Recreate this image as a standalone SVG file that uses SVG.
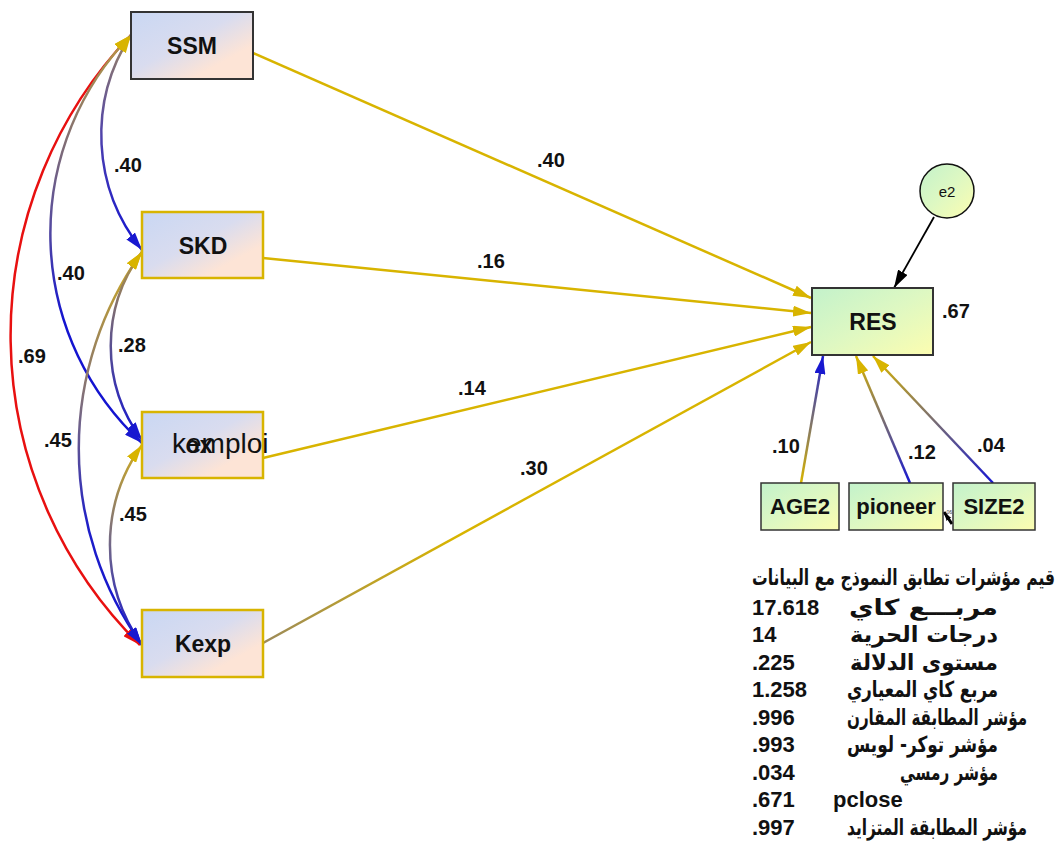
<svg xmlns="http://www.w3.org/2000/svg" width="1062" height="847" viewBox="0 0 1062 847">
<style>
.lbl{font-family:"Liberation Sans",Arial,sans-serif;font-weight:bold;font-size:23px;fill:#111;text-anchor:middle}
.sm{font-family:"Liberation Sans",Arial,sans-serif;font-weight:bold;font-size:22px;fill:#111;text-anchor:middle}
.num{font-family:"Liberation Sans",Arial,sans-serif;font-weight:bold;font-size:20px;fill:#111}
.st{font-family:"Liberation Sans",Arial,sans-serif;font-weight:bold;font-size:22px;fill:#111}
.ar{font-family:"DejaVu Sans","Noto Sans",sans-serif;font-weight:bold;font-size:22px;fill:#111}
.gold{fill:none;stroke:#d8b400;stroke-width:2.5}
.cov{fill:none;stroke-width:2.5}
</style>
<defs>
<linearGradient id="bp" x1="0" y1="0" x2="1" y2="1">
<stop offset="0" stop-color="#c9d7f3"/><stop offset="0.45" stop-color="#d9dcef"/><stop offset="0.75" stop-color="#fde4d6"/><stop offset="1" stop-color="#fde4d6"/>
</linearGradient>
<linearGradient id="gy" x1="0" y1="0" x2="1" y2="1">
<stop offset="0" stop-color="#c3f2cb"/><stop offset="0.5" stop-color="#def8c2"/><stop offset="1" stop-color="#fcfdb0"/>
</linearGradient>
<marker id="mg" viewBox="0 0 18 11" refX="18" refY="5.5" markerWidth="18" markerHeight="11" markerUnits="userSpaceOnUse" orient="auto-start-reverse"><path d="M0,0 L18,5.5 L0,11 z" fill="#d8b400"/></marker>
<marker id="mb" viewBox="0 0 18 11" refX="18" refY="5.5" markerWidth="18" markerHeight="11" markerUnits="userSpaceOnUse" orient="auto-start-reverse"><path d="M0,0 L18,5.5 L0,11 z" fill="#1818d0"/></marker>
<marker id="mr" viewBox="0 0 18 11" refX="18" refY="5.5" markerWidth="18" markerHeight="11" markerUnits="userSpaceOnUse" orient="auto-start-reverse"><path d="M0,0 L18,5.5 L0,11 z" fill="#e81010"/></marker>
<marker id="mk" viewBox="0 0 18 11" refX="18" refY="5.5" markerWidth="18" markerHeight="11" markerUnits="userSpaceOnUse" orient="auto-start-reverse"><path d="M0,0 L18,5.5 L0,11 z" fill="#000"/></marker>
<marker id="mks" viewBox="0 0 16 10" refX="16" refY="5" markerWidth="9" markerHeight="7" markerUnits="userSpaceOnUse" orient="auto"><path d="M0,0 L16,5 L0,10 z" fill="#000"/></marker>
<linearGradient id="c1" gradientUnits="userSpaceOnUse" x1="0" y1="35" x2="0" y2="250"><stop offset="0" stop-color="#9a8460"/><stop offset="0.5" stop-color="#4a3eb0"/><stop offset="1" stop-color="#1414d0"/></linearGradient>
<linearGradient id="c2" gradientUnits="userSpaceOnUse" x1="0" y1="35" x2="0" y2="443"><stop offset="0" stop-color="#b89a40"/><stop offset="0.45" stop-color="#5a4e9a"/><stop offset="0.7" stop-color="#1414d0"/><stop offset="1" stop-color="#1414d0"/></linearGradient>
<linearGradient id="c4" gradientUnits="userSpaceOnUse" x1="0" y1="250" x2="0" y2="440"><stop offset="0" stop-color="#b89a40"/><stop offset="0.5" stop-color="#5a5090"/><stop offset="1" stop-color="#1414d0"/></linearGradient>
<linearGradient id="c5" gradientUnits="userSpaceOnUse" x1="0" y1="252" x2="0" y2="645"><stop offset="0" stop-color="#d0ac20"/><stop offset="0.4" stop-color="#7a6a80"/><stop offset="0.7" stop-color="#1e1ec8"/><stop offset="1" stop-color="#1414d0"/></linearGradient>
<linearGradient id="c6" gradientUnits="userSpaceOnUse" x1="0" y1="445" x2="0" y2="645"><stop offset="0" stop-color="#d0ac20"/><stop offset="0.45" stop-color="#7a6e80"/><stop offset="1" stop-color="#1414d0"/></linearGradient>
<linearGradient id="lk" gradientUnits="userSpaceOnUse" x1="263" y1="643" x2="811" y2="342"><stop offset="0" stop-color="#9c8a5a"/><stop offset="0.35" stop-color="#d8b400"/><stop offset="1" stop-color="#d8b400"/></linearGradient>
<linearGradient id="la" gradientUnits="userSpaceOnUse" x1="0" y1="483" x2="0" y2="356"><stop offset="0" stop-color="#d8b400"/><stop offset="0.5" stop-color="#7a7070"/><stop offset="1" stop-color="#2020c8"/></linearGradient>
<linearGradient id="lp" gradientUnits="userSpaceOnUse" x1="0" y1="483" x2="0" y2="356"><stop offset="0" stop-color="#1818d0"/><stop offset="0.5" stop-color="#7a6e70"/><stop offset="1" stop-color="#d8b400"/></linearGradient>
</defs>

<g id="connectors">
<path class="gold" d="M253,53 L811,298" marker-end="url(#mg)"/>
<path class="gold" d="M263,258 L811,313" marker-end="url(#mg)"/>
<path class="gold" d="M263,458 L811,327" marker-end="url(#mg)"/>
<path d="M263,643 L811,342" fill="none" stroke="url(#lk)" stroke-width="2.5" marker-end="url(#mg)"/>
<path d="M934,217 L894,288" fill="none" stroke="#000" stroke-width="1.8" marker-end="url(#mk)"/>
<path d="M801,483 L823,356" fill="none" stroke="url(#la)" stroke-width="2.5" marker-end="url(#mb)"/>
<path d="M910,483 L856,356" fill="none" stroke="url(#lp)" stroke-width="2.5" marker-end="url(#mg)"/>
<path d="M993,483 L873,356" fill="none" stroke="url(#lp)" stroke-width="2.5" marker-end="url(#mg)"/>
<path d="M952,524 L944,512" fill="none" stroke="#000" stroke-width="3" marker-end="url(#mks)"/>
<path class="cov" d="M131,35 A435,435 0 0,0 140,645" stroke="#e81010" marker-start="url(#mg)" marker-end="url(#mr)"/>
<path class="cov" d="M131,35 A285,285 0 0,0 142,443" stroke="url(#c2)" marker-start="url(#mg)" marker-end="url(#mb)"/>
<path class="cov" d="M131,35 A183,183 0 0,0 142,250" stroke="url(#c1)" marker-start="url(#mg)" marker-end="url(#mb)"/>
<path class="cov" d="M142,252 A337,337 0 0,0 142,645" stroke="url(#c5)" marker-start="url(#mg)" marker-end="url(#mb)"/>
<path class="cov" d="M142,252 A157,157 0 0,0 142,440" stroke="url(#c4)" marker-start="url(#mg)" marker-end="url(#mb)"/>
<path class="cov" d="M142,445 A172,172 0 0,0 142,645" stroke="url(#c6)" marker-start="url(#mg)" marker-end="url(#mb)"/>
<text class="num" x="537" y="167">.40</text>
<text class="num" x="477" y="268">.16</text>
<text class="num" x="458" y="395">.14</text>
<text class="num" x="520" y="475">.30</text>
<text class="num" x="114" y="172">.40</text>
<text class="num" x="57" y="280">.40</text>
<text class="num" x="18" y="363">.69</text>
<text class="num" x="118" y="352">.28</text>
<text class="num" x="44" y="447">.45</text>
<text class="num" x="119" y="521">.45</text>
<text class="num" x="772" y="453">.10</text>
<text class="num" x="908" y="459">.12</text>
<text class="num" x="977" y="452">.04</text>
<text x="945" y="514" font-family="Liberation Sans,Arial,sans-serif" font-size="5" fill="#333">.06</text>
</g>

<g id="SSM"><rect x="131" y="12" width="122" height="67" fill="url(#bp)" stroke="#333" stroke-width="2"/><text class="lbl" x="192" y="54">SSM</text></g>
<g id="SKD"><rect x="142" y="212" width="121" height="66" fill="url(#bp)" stroke="#d8b400" stroke-width="2.5"/><text class="lbl" x="203" y="254">SKD</text></g>
<g id="kemploi"><rect x="142" y="412" width="121" height="66" fill="url(#bp)" stroke="#d8b400" stroke-width="2.5"/><text x="199" y="453" font-family="Liberation Sans,Arial,sans-serif" font-weight="bold" font-size="23" fill="#111" text-anchor="middle">ox</text><text x="172" y="453" font-family="Liberation Sans,Arial,sans-serif" font-size="28" fill="#111">kemploi</text></g>
<g id="Kexp"><rect x="142" y="610" width="121" height="67" fill="url(#bp)" stroke="#d8b400" stroke-width="2.5"/><text class="lbl" x="203" y="652">Kexp</text></g>
<g id="RES"><rect x="812" y="288" width="121" height="67" fill="url(#gy)" stroke="#333" stroke-width="2"/><text class="lbl" x="873" y="330">RES</text><text class="num" x="942" y="318">.67</text></g>
<g id="e2"><circle cx="947" cy="191" r="27" fill="url(#gy)" stroke="#111" stroke-width="1.5"/><text x="947" y="197" font-family="Liberation Sans,Arial,sans-serif" font-size="15" fill="#111" text-anchor="middle">e2</text></g>
<g id="AGE2"><rect x="761" y="483" width="78" height="47" fill="url(#gy)" stroke="#333" stroke-width="1.5"/><text class="sm" x="800" y="514">AGE2</text></g>
<g id="pioneer"><rect x="849" y="483" width="94" height="47" fill="url(#gy)" stroke="#333" stroke-width="1.5"/><text class="sm" x="896" y="514">pioneer</text></g>
<g id="SIZE2"><rect x="953" y="483" width="82" height="47" fill="url(#gy)" stroke="#333" stroke-width="1.5"/><text class="sm" x="994" y="514">SIZE2</text></g>

<g id="fit-indices">
<text class="ar" x="752" y="585" textLength="303" lengthAdjust="spacingAndGlyphs">قيم مؤشرات تطابق النموذج مع البيانات</text>
<text class="st" x="752" y="615">17.618</text><text class="ar" x="849" y="615" textLength="149" lengthAdjust="spacingAndGlyphs">مربـــع كاي</text>
<text class="st" x="752" y="642">14</text><text class="ar" x="850" y="642" textLength="148" lengthAdjust="spacingAndGlyphs">درجات الحرية</text>
<text class="st" x="752" y="670">.225</text><text class="ar" x="850" y="670" textLength="148" lengthAdjust="spacingAndGlyphs">مستوى الدلالة</text>
<text class="st" x="752" y="697">1.258</text><text class="ar" x="847" y="697" textLength="151" lengthAdjust="spacingAndGlyphs">مربع كاي المعياري</text>
<text class="st" x="752" y="725">.996</text><text class="ar" x="847" y="725" textLength="180" lengthAdjust="spacingAndGlyphs">مؤشر المطابقة المقارن</text>
<text class="st" x="752" y="752">.993</text><text class="ar" x="847" y="752" textLength="151" lengthAdjust="spacingAndGlyphs">مؤشر توكر- لويس</text>
<text class="st" x="752" y="780">.034</text><text class="ar" x="900" y="780" textLength="98" lengthAdjust="spacingAndGlyphs">مؤشر رمسي</text>
<text class="st" x="752" y="807">.671</text><text class="st" x="833" y="807">pclose</text>
<text class="st" x="752" y="835">.997</text><text class="ar" x="847" y="835" textLength="180" lengthAdjust="spacingAndGlyphs">مؤشر المطابقة المتزايد</text>
</g>
</svg>
